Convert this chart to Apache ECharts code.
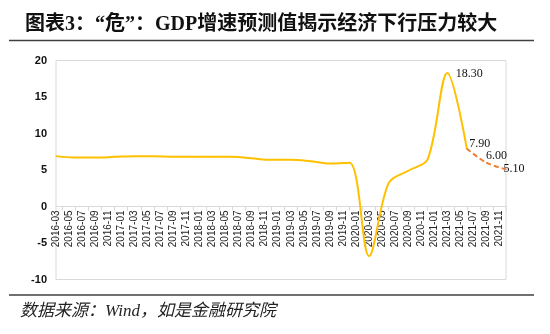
<!DOCTYPE html>
<html>
<head>
<meta charset="utf-8">
<script src="https://cdn.jsdelivr.net/npm/echarts@6/dist/echarts.min.js"></script>
<style>
  html, body { margin: 0; padding: 0; background: #fff; }
  #chart { width: 550px; height: 334px; }
</style>
</head>
<body>
<div id="chart"></div>
<script>
// Quarterly GDP growth (YoY, %) placed on a monthly category axis
const actualQuarters = [
  '2016-03', '2016-06', '2016-09', '2016-12',
  '2017-03', '2017-06', '2017-09', '2017-12',
  '2018-03', '2018-06', '2018-09', '2018-12',
  '2019-03', '2019-06', '2019-09', '2019-12',
  '2020-03', '2020-06', '2020-09', '2020-12',
  '2021-03', '2021-06'
];
const actualValues = [
  6.9, 6.7, 6.7, 6.8,
  6.9, 6.9, 6.8, 6.8,
  6.8, 6.8, 6.6, 6.4,
  6.4, 6.2, 5.9, 6.0,
  -6.8, 3.2, 4.9, 6.5,
  18.3, 7.9
];
const forecastQuarters = ['2021-06', '2021-09', '2021-12'];
const forecastValues = [7.9, 6.0, 5.1];

// Labelled points
const labelledActual = ['2021-03', '2021-06'];
const labelledForecast = ['2021-09', '2021-12'];

const yTicks = { min: -10, max: 20, interval: 5 };

// Monthly category axis from 2016-03 to 2021-12
const months = [];
for (let y = 2016; y <= 2021; y++) {
  for (let m = (y === 2016 ? 3 : 1); m <= 12; m++) {
    months.push(y + '-' + (m < 10 ? '0' + m : '' + m));
  }
}

const GRID = { left: 56, right: 44, top: 60.5, bottom: 54.5 };
const plotHeight = 334 - GRID.top - GRID.bottom;
// lift the category axis (line, ticks and labels) up to the zero line
const zeroOffset = -plotHeight * (0 - yTicks.min) / (yTicks.max - yTicks.min);

const serif = "'Liberation Serif', 'Noto Sans CJK SC', serif";
const labelFmt = p => Number(p.value[1]).toFixed(2);

const labelStyles = {
  '2021-03': { position: 'right', distance: 8, offset: [0, 1] },
  '2021-06': { position: 'right', distance: 2, offset: [0, -5] },
  '2021-09': { position: 'top', distance: 0, offset: [10, 0] },
  '2021-12': { position: 'right', distance: 0, offset: [-3, 0] }
};

function buildData(cats, vals, labelled) {
  return cats.map((c, i) => {
    const item = { value: [c, vals[i]] };
    if (labelled.indexOf(c) >= 0) {
      item.label = Object.assign({ show: true }, labelStyles[c]);
    }
    return item;
  });
}

const chart = echarts.init(document.getElementById('chart'), null, { renderer: 'canvas' });

chart.setOption({
  animation: false,
  backgroundColor: '#fff',
  title: {
    text: '图表3：“危”：GDP增速预测值揭示经济下行压力较大',
    left: 20,
    top: 10,
    textStyle: { fontFamily: serif, fontSize: 20, fontWeight: 'bold', color: '#111' }
  },
  grid: Object.assign({
    show: true, borderColor: '#D9D9D9', borderWidth: 1, backgroundColor: '#fff'
  }, GRID),
  xAxis: {
    type: 'category',
    data: months,
    boundaryGap: false,
    offset: zeroOffset,
    axisLine: { onZero: false, lineStyle: { color: '#D9D9D9', width: 1 } },
    axisTick: {
      show: true, length: 4,
      interval: idx => idx % 2 === 1,
      lineStyle: { color: '#D9D9D9' }
    },
    axisLabel: {
      interval: 1, rotate: 90, margin: 4,
      fontFamily: "'Liberation Sans', Arial, sans-serif", fontSize: 10, color: '#222'
    },
    splitLine: { show: false }
  },
  yAxis: {
    type: 'value',
    min: yTicks.min, max: yTicks.max, interval: yTicks.interval,
    axisLine: { show: false },
    axisTick: { show: false },
    splitLine: { show: false },
    axisLabel: {
      margin: 9,
      fontFamily: "'Liberation Sans', Arial, sans-serif", fontSize: 11, fontWeight: 'bold', color: '#111'
    }
  },
  series: [
    {
      type: 'line',
      data: buildData(actualQuarters, actualValues, labelledActual),
      smooth: 0.33,
      symbol: 'circle', symbolSize: 1,
      itemStyle: { color: '#FFC000' },
      lineStyle: { color: '#FFC000', width: 2 },
      label: { show: false, formatter: labelFmt, fontFamily: serif, fontSize: 12, color: '#111' },
      z: 3
    },
    {
      type: 'line',
      data: buildData(forecastQuarters, forecastValues, labelledForecast),
      smooth: 0.33,
      symbol: 'circle', symbolSize: 1,
      itemStyle: { color: '#ED7D31' },
      lineStyle: { color: '#ED7D31', width: 2, type: [5, 3] },
      label: { show: false, formatter: labelFmt, fontFamily: serif, fontSize: 12, color: '#111' },
      z: 4
    }
  ],
  graphic: [
    { type: 'line', shape: { x1: 9, y1: 40.5, x2: 534, y2: 40.5 }, style: { stroke: '#404040', lineWidth: 1.5 } },
    { type: 'line', shape: { x1: 9, y1: 295, x2: 534, y2: 295 }, style: { stroke: '#404040', lineWidth: 1.5 } },
    {
      type: 'text', left: 20, top: 303,
      style: {
        text: '数据来源：Wind，如是金融研究院',
        font: "italic 17px 'Liberation Serif', 'Noto Sans CJK SC', serif",
        fill: '#222'
      }
    }
  ]
});
</script>
</body>
</html>
